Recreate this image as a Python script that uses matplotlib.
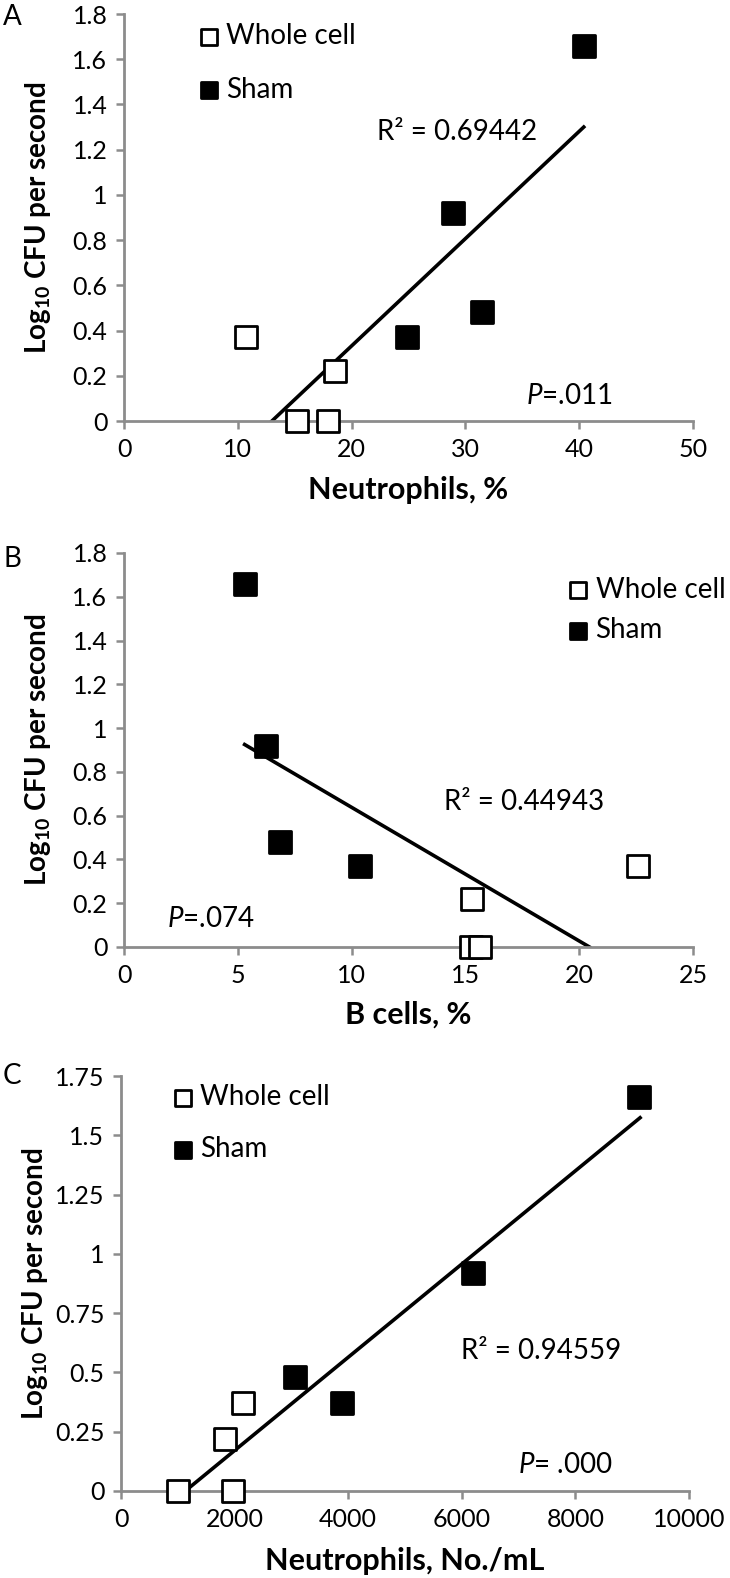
import matplotlib
matplotlib.use("Agg")
import matplotlib.pyplot as plt
from matplotlib.ticker import FuncFormatter

plt.rcParams['font.family'] = ['Lato', 'DejaVu Sans']
plt.rcParams['mathtext.fontset'] = 'custom'
plt.rcParams['mathtext.rm'] = 'Lato'
plt.rcParams['mathtext.it'] = 'Lato:italic'
plt.rcParams['mathtext.bf'] = 'Lato:bold'

# log10 CFU per second, same eight subjects in every panel
whole_y = [0.37, 0.22, 0.0, 0.0]
sham_y = [1.66, 0.92, 0.48, 0.37]

# panel A: neutrophils, %
a_whole_x = [10.75, 18.5, 15.2, 17.9]
a_sham_x = [40.4, 28.9, 31.5, 24.9]
a_trend_x = [13.0, 40.4]
a_trend_y = [0.0, 1.30]

# panel B: B cells, %
b_whole_x = [22.6, 15.3, 15.25, 15.65]
b_sham_x = [5.3, 6.26, 6.85, 10.39]
b_trend_x = [5.3, 20.45]
b_trend_y = [0.925, 0.0]

# panel C: neutrophils, No./mL
c_whole_x = [2148, 1836, 1008, 1967]
c_sham_x = [9115, 6205, 3057, 3893]
c_trend_x = [1131, 9139]
c_trend_y = [0.0, 1.574]

r2_text = ['R² = 0.69442', 'R² = 0.44943', 'R² = 0.94559']
p_text = [r'$P$=.011', r'$P$=.074', r'$P$= .000']

W, H = 730, 1578
fig = plt.figure(figsize=(W / 100, H / 100), dpi=100)

def px_axes(left, top, right, bottom):
    return fig.add_axes([left / W, 1 - bottom / H, (right - left) / W, (bottom - top) / H])

GRAY = '#8c8c8c'

def style(ax, xmax, xstep, ymax, ystep, xlabel):
    ax.set_xlim(0, xmax)
    ax.set_ylim(0, ymax)
    ax.set_xticks([i * xstep for i in range(int(round(xmax / xstep)) + 1)])
    ax.set_yticks([round(i * ystep, 3) for i in range(int(round(ymax / ystep)) + 1)])
    ax.yaxis.set_major_formatter(FuncFormatter(lambda v, p: '{:g}'.format(v)))
    ax.xaxis.set_major_formatter(FuncFormatter(lambda v, p: '{:g}'.format(v)))
    for s in ['top', 'right']:
        ax.spines[s].set_visible(False)
    for s in ['left', 'bottom']:
        ax.spines[s].set_color(GRAY)
        ax.spines[s].set_linewidth(2.0)
    ax.tick_params(direction='out', length=6, width=1.8, color=GRAY,
                   labelsize=18, pad=6)
    ax.set_xlabel(xlabel, fontsize=22, fontweight='bold')
    ax.xaxis.set_label_coords(0.5, -0.135)
    ax.set_ylabel(r'$\mathbf{Log_{10}}$ CFU per second', fontsize=20, fontweight='bold')
    ax.yaxis.set_label_coords(-0.125, 0.5)

def draw(ax, wx, sx, tx, ty):
    ax.plot(tx, ty, color='black', lw=2.6, zorder=2)
    ax.scatter(wx, whole_y, marker='s', s=230, facecolor='white', edgecolor='black',
               linewidth=2.0, zorder=3, clip_on=False, label='Whole cell')
    ax.scatter(sx, sham_y, marker='s', s=230, facecolor='black', edgecolor='black',
               linewidth=2.0, zorder=3, clip_on=False, label='Sham')

def legend(ax, x, y, spacing):
    ax.legend(loc='upper left', bbox_to_anchor=(x, y), frameon=False, fontsize=20,
              markerscale=0.8, handletextpad=0.12, labelspacing=spacing,
              borderpad=0, borderaxespad=0, handlelength=1.0)

# A
axA = px_axes(124, 14, 693, 421)
draw(axA, a_whole_x, a_sham_x, a_trend_x, a_trend_y)
style(axA, 50, 10, 1.8, 0.2, 'Neutrophils, %')
legend(axA, 0.125, 0.978, 1.0)
axA.text(22.2, 1.278, r2_text[0], fontsize=20, va='center', ha='left')
axA.text(35.3, 0.11, p_text[0], fontsize=20, va='center', ha='left')

# B
axB = px_axes(124, 553, 693, 947)
draw(axB, b_whole_x, b_sham_x, b_trend_x, b_trend_y)
style(axB, 25, 5, 1.8, 0.2, 'B cells, %')
legend(axB, 0.774, 0.94, 0.53)
axB.text(14.06, 0.662, r2_text[1], fontsize=20, va='center', ha='left')
axB.text(1.9, 0.126, p_text[1], fontsize=20, va='center', ha='left')

# C
axC = px_axes(121, 1076, 689, 1491)
draw(axC, c_whole_x, c_sham_x, c_trend_x, c_trend_y)
style(axC, 10000, 2000, 1.75, 0.25, 'Neutrophils, No./mL')
legend(axC, 0.085, 0.98, 0.93)
axC.text(5984, 0.589, r2_text[2], fontsize=20, va='center', ha='left')
axC.text(6992, 0.11, p_text[2], fontsize=20, va='center', ha='left')

for lab, top in [('A', 4), ('B', 546), ('C', 1063)]:
    fig.text(3 / W, 1 - top / H, lab, fontsize=20, va='top', ha='left')

fig.savefig('out.png', dpi=100)
